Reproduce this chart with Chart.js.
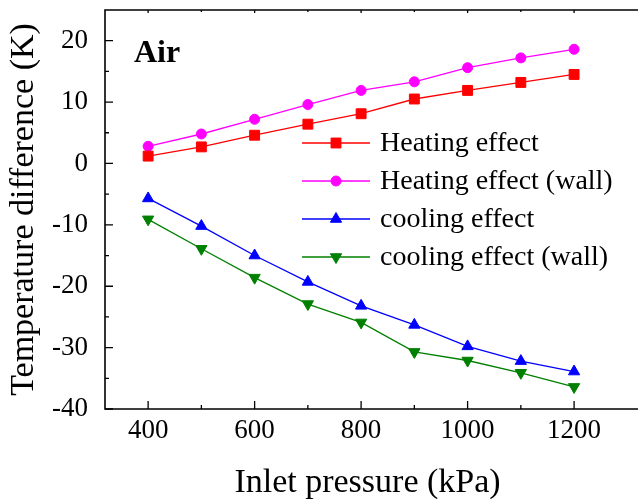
<!DOCTYPE html>
<html>
<head>
<meta charset="utf-8">
<script src="https://cdn.jsdelivr.net/npm/chart.js@4.4.0/dist/chart.umd.min.js"></script>
<style>
  html, body { margin: 0; padding: 0; background: #fff; overflow: hidden; }
</style>
</head>
<body>
<canvas id="chart" width="638" height="499"></canvas>
<script>
// inlet pressure (kPa)
const pressures = [400, 500, 600, 700, 800, 900, 1000, 1100, 1200];
// temperature difference (K)
const heating = [1.2, 2.7, 4.6, 6.4, 8.1, 10.5, 11.9, 13.2, 14.5];
const heatingWall = [2.8, 4.8, 7.2, 9.6, 11.9, 13.3, 15.6, 17.2, 18.6];
const cooling = [-5.7, -10.2, -15.0, -19.3, -23.2, -26.3, -29.8, -32.2, -33.9];
const coolingWall = [-9.1, -13.9, -18.6, -22.9, -25.9, -30.7, -32.1, -34.1, -36.4];

const xTicks = [400, 600, 800, 1000, 1200];
const xMinor = [500, 700, 900, 1100];
const yTicks = [-40, -30, -20, -10, 0, 10, 20];
const yMinor = [-35, -25, -15, -5, 5, 15];

const serif = '"Liberation Serif", "Times New Roman", serif';

function pts(vals) {
  return pressures.map((p, i) => ({ x: p, y: vals[i] }));
}

function serie(label, vals, color, style, radius, rotation) {
  return {
    label: label,
    data: pts(vals),
    borderColor: color,
    backgroundColor: color,
    borderWidth: 1.3,
    pointStyle: style,
    pointRadius: radius,
    pointRotation: rotation || 0,
    pointBorderWidth: 1,
    pointHoverRadius: radius,
    tension: 0
  };
}

// axes frame with inward ticks, like the original plot (right side is cut off)
const frame = {
  id: 'frame',
  afterDraw(chart) {
    const { ctx, chartArea: a, scales: { x, y } } = chart;
    ctx.save();
    ctx.strokeStyle = '#000';
    ctx.lineWidth = 1.6;
    ctx.beginPath();
    ctx.moveTo(chart.width, a.top);
    ctx.lineTo(a.left, a.top);
    ctx.lineTo(a.left, a.bottom);
    ctx.lineTo(chart.width, a.bottom);
    ctx.stroke();

    ctx.lineWidth = 1.3;
    ctx.beginPath();
    xTicks.forEach(v => {
      const px = x.getPixelForValue(v);
      ctx.moveTo(px, a.bottom); ctx.lineTo(px, a.bottom - 8);
      ctx.moveTo(px, a.top); ctx.lineTo(px, a.top + 3);
    });
    xMinor.forEach(v => {
      const px = x.getPixelForValue(v);
      ctx.moveTo(px, a.bottom); ctx.lineTo(px, a.bottom - 4);
      ctx.moveTo(px, a.top); ctx.lineTo(px, a.top + 2);
    });
    yTicks.forEach(v => {
      const py = y.getPixelForValue(v);
      ctx.moveTo(a.left, py); ctx.lineTo(a.left + 8, py);
    });
    yMinor.forEach(v => {
      const py = y.getPixelForValue(v);
      ctx.moveTo(a.left, py); ctx.lineTo(a.left + 4, py);
    });
    ctx.stroke();

    // panel label
    ctx.fillStyle = '#000';
    ctx.font = 'bold 32px ' + serif;
    ctx.textBaseline = 'alphabetic';
    ctx.fillText('Air', a.left + 29, a.top + 52);
    ctx.restore();
  }
};

// legend inside the plot: line + marker + text
const legendBox = {
  id: 'legendBox',
  afterDraw(chart) {
    const { ctx, chartArea: a } = chart;
    const x0 = a.left + 197;
    ctx.save();
    ctx.font = '28px ' + serif;
    ctx.textBaseline = 'middle';
    chart.data.datasets.forEach((ds, i) => {
      const yy = a.top + 133 + i * 38;
      ctx.strokeStyle = ds.borderColor;
      ctx.fillStyle = ds.backgroundColor;
      ctx.lineWidth = ds.borderWidth;
      ctx.beginPath();
      ctx.moveTo(x0, yy);
      ctx.lineTo(x0 + 68, yy);
      ctx.stroke();
      ctx.lineWidth = 1;
      Chart.helpers.drawPoint(ctx, {
        pointStyle: ds.pointStyle,
        radius: ds.pointRadius,
        rotation: ds.pointRotation,
        borderWidth: 1
      }, x0 + 34, yy);
      ctx.fillStyle = '#000';
      ctx.fillText(ds.label, x0 + 78, yy + 1);
    });
    ctx.restore();
  }
};

const ctx = document.getElementById('chart');
new Chart(ctx, {
  type: 'line',
  data: {
    datasets: [
      serie('Heating effect', heating, '#ff0000', 'rect', 7),
      serie('Heating effect (wall)', heatingWall, '#ff00ff', 'circle', 5),
      serie('cooling effect', cooling, '#0000ff', 'triangle', 6.5),
      serie('cooling effect (wall)', coolingWall, '#008000', 'triangle', 6.5, 180)
    ]
  },
  options: {
    responsive: false,
    animation: false,
    devicePixelRatio: 1,
    layout: { padding: { top: 10, right: 0, bottom: 0, left: 0 } },
    plugins: {
      legend: { display: false },
      tooltip: { enabled: false }
    },
    scales: {
      x: {
        type: 'linear',
        min: 319,
        max: 1305,
        afterBuildTicks: s => { s.ticks = xTicks.map(v => ({ value: v })); },
        afterFit: s => { s.height = 90; s.paddingLeft = 0; s.paddingRight = 0; },
        grid: { display: false, drawTicks: false },
        border: { display: false },
        ticks: {
          font: { family: serif, size: 27 },
          color: '#000',
          padding: 6,
          maxRotation: 0,
          callback: v => String(v)
        },
        title: {
          display: true,
          text: 'Inlet pressure (kPa)',
          font: { family: serif, size: 34 },
          color: '#000',
          padding: { top: 0, bottom: -4 }
        }
      },
      y: {
        min: -40,
        max: 25,
        afterBuildTicks: s => { s.ticks = yTicks.map(v => ({ value: v })); },
        afterFit: s => { s.width = 105; s.paddingTop = 0; s.paddingBottom = 0; },
        grid: { display: false, drawTicks: false },
        border: { display: false },
        ticks: {
          font: { family: serif, size: 27 },
          color: '#000',
          padding: 17,
          callback: v => String(v)
        },
        title: {
          display: true,
          text: 'Temperature difference (K)',
          font: { family: serif, size: 34 },
          color: '#000',
          padding: { top: 4, bottom: 0 }
        }
      }
    }
  },
  plugins: [frame, legendBox]
});
</script>
</body>
</html>
